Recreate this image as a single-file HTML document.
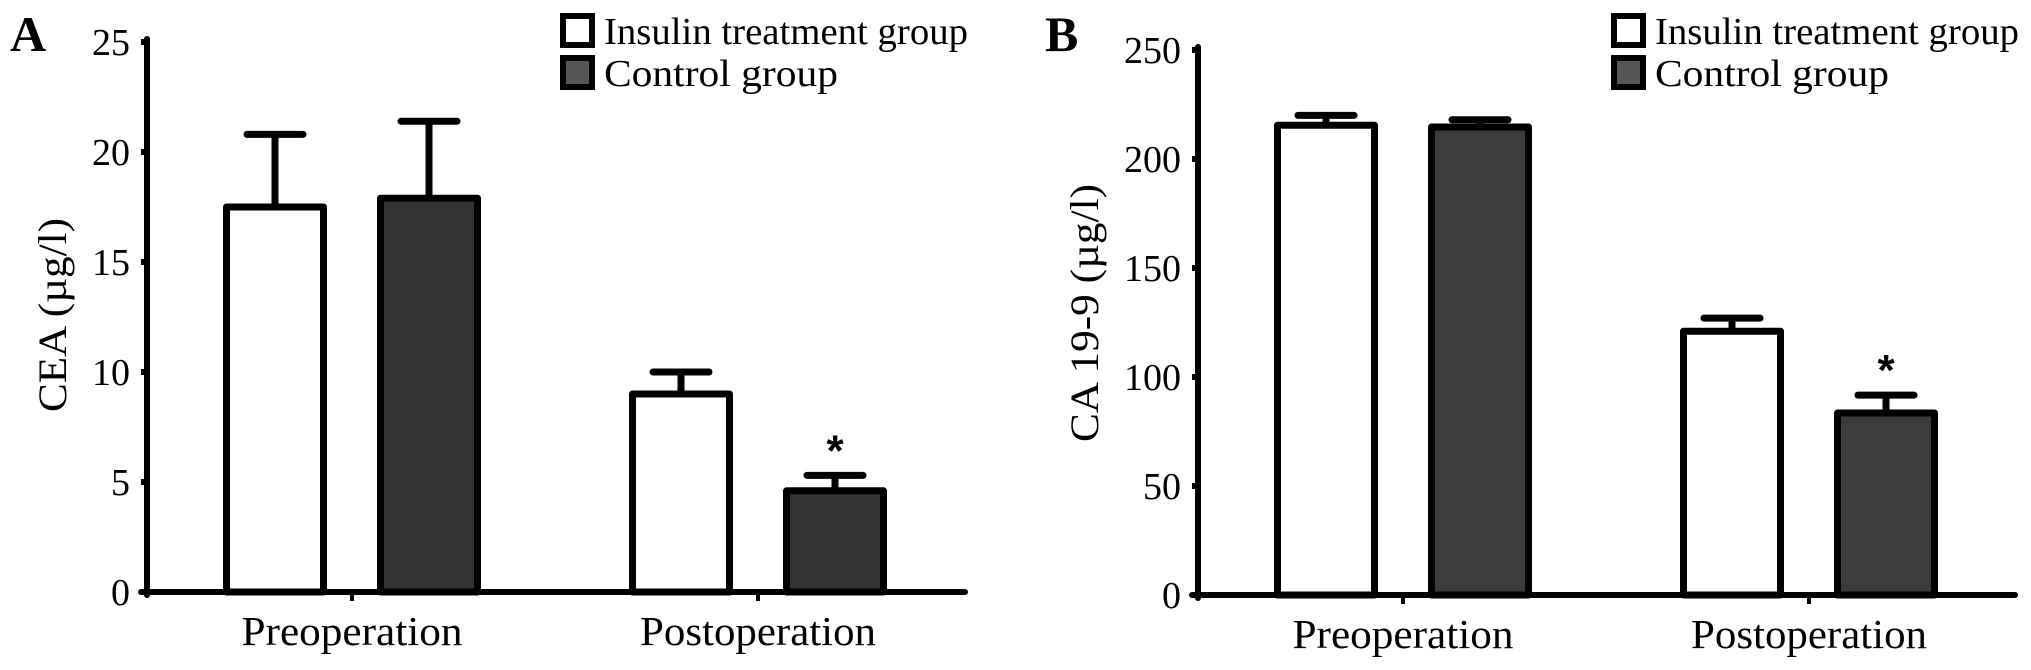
<!DOCTYPE html>
<html><head><meta charset="utf-8"><style>
html,body{margin:0;padding:0;background:#fff;}
svg{display:block;font-family:"Liberation Serif","DejaVu Serif",serif;}
</style></head><body>
<svg id="chart" width="2031" height="670" viewBox="0 0 2031 670"></svg>
<script>
const categories = ["Preoperation", "Postoperation"];
const seriesNames = ["Insulin treatment group", "Control  group"];
const ceaMeans = [[17.5, 9.0], [17.9, 4.6]];
const ceaErrs = [[20.8, 10.0], [21.4, 5.3]];
const ceaTicks = [0, 5, 10, 15, 20, 25];
const caMeans = [[215.5, 121], [214.7, 83.5]];
const caErrs = [[220, 127], [218, 91.7]];
const caTicks = [0, 50, 100, 150, 200, 250];
const starFlags = [[false, false], [false, true]];

const NS = "http://www.w3.org/2000/svg";
const svg = document.getElementById("chart");
function mk(tag, attrs, parent, text) {
  const e = document.createElementNS(NS, tag);
  for (const k in attrs) e.setAttribute(k, attrs[k]);
  if (text !== undefined) e.textContent = text;
  (parent || svg).appendChild(e);
  return e;
}

function panel(cfg) {
  const g = mk("g", {});
  
  
  const yMax = cfg.ticks[cfg.ticks.length - 1];
  const y = v => cfg.y0 - (v / yMax) * (cfg.y0 - cfg.yTop);
  const centers = cfg.centers;
  const bw = 104, off = 77;
  for (let s = 0; s < 2; s++) {
    for (let c = 0; c < categories.length; c++) {
      const cx = centers[c] + (s === 0 ? -off : off);
      const top = y(cfg.means[s][c]);
      const ey = y(cfg.errs[s][c]);
      const eb = mk("line", {x1: cx, x2: cx, y1: top, y2: ey, stroke: "#000", "stroke-width": 7}, g);
      
      
      const cap = mk("line", {x1: cx - 28, x2: cx + 28, y1: ey, y2: ey, stroke: "#000", "stroke-width": 7, "stroke-linecap": "round"}, g);
      
      
      const r = mk("rect", {x: cx - bw / 2 + 3.5, y: top, width: bw - 7, height: cfg.y0 - top, fill: s === 0 ? "#fff" : cfg.dark, stroke: "#000", "stroke-width": 7, "stroke-linejoin": "round"}, g);
      
      
      if (starFlags[s][c]) {
        const st = mk("text", {x: cx, y: ey - 10, "text-anchor": "middle", "font-size": 44, "font-weight": "bold", "font-family": "Liberation Sans, sans-serif"}, g, "*");
        
        
      }
    }
  }
  const ya = mk("line", {x1: cfg.ax, x2: cfg.ax, y1: cfg.yTop - 3, y2: cfg.y0 + 3, stroke: "#000", "stroke-width": 6, "stroke-linecap": "round"}, g);
  
  
  const xa = mk("line", {x1: cfg.ax - 6, x2: cfg.xEnd, y1: cfg.y0, y2: cfg.y0, stroke: "#000", "stroke-width": 6, "stroke-linecap": "round"}, g);
  
  
  cfg.ticks.forEach(t => {
    const tk = mk("line", {x1: cfg.ax - 6, x2: cfg.ax, y1: y(t), y2: y(t), stroke: "#000", "stroke-width": 6}, g);
    
    
    const tl = mk("text", {x: cfg.ax - 17, y: y(t) + 13, "text-anchor": "end", "font-size": 38}, g, String(t));
    
    
  });
  categories.forEach((c, i) => {
    const tk = mk("line", {x1: centers[i], x2: centers[i], y1: cfg.y0, y2: cfg.y0 + 9, stroke: "#000", "stroke-width": 4}, g);
    
    
    const tl = mk("text", {x: centers[i], y: cfg.y0 + 53, "text-anchor": "middle", "font-size": 41, textLength: i === 0 ? 221 : 236, lengthAdjust: "spacingAndGlyphs"}, g, c);
    
    
  });
  const yt = mk("text", {x: 0, y: 0, transform: `translate(${cfg.titleX},${cfg.titleY}) rotate(-90)`, "text-anchor": "middle", "font-size": 40, textLength: cfg.titleLen, lengthAdjust: "spacingAndGlyphs"}, g, cfg.title);
  
  
  const pl = mk("text", {x: cfg.letterX, y: 51, "font-size": 50, "font-weight": "bold"}, g, cfg.letter);
  
  
  seriesNames.forEach((n, i) => {
    const by = 16 + i * 42;
    const b = mk("rect", {x: cfg.legX, y: by, width: 29, height: 29, fill: i === 0 ? "#fff" : "#555", stroke: "#000", "stroke-width": 6}, g);
    
    
    const t = mk("text", {x: cfg.legX + 41, y: by + 28, "font-size": 38, textLength: i === 0 ? 364 : 234, lengthAdjust: "spacingAndGlyphs", "xml:space": "preserve"}, g, n);
    
    
  });
}

panel({name: "panel-a-cea", means: ceaMeans, errs: ceaErrs, ticks: ceaTicks, y0: 592, yTop: 42, ax: 147, xEnd: 965,
  centers: [352, 758], dark: "#333", title: "CEA (\u00b5g/l)", titleX: 66, titleY: 315, titleLen: 194, letter: "A", letterX: 10, legX: 563});
panel({name: "panel-b-ca199", means: caMeans, errs: caErrs, ticks: caTicks, y0: 595, yTop: 50, ax: 1198, xEnd: 2015,
  centers: [1403, 1809], dark: "#3c3c3c", title: "CA 19-9 (\u00b5g/l)", titleX: 1098, titleY: 313, titleLen: 258, letter: "B", letterX: 1045, legX: 1614});
</script>
</body></html>
